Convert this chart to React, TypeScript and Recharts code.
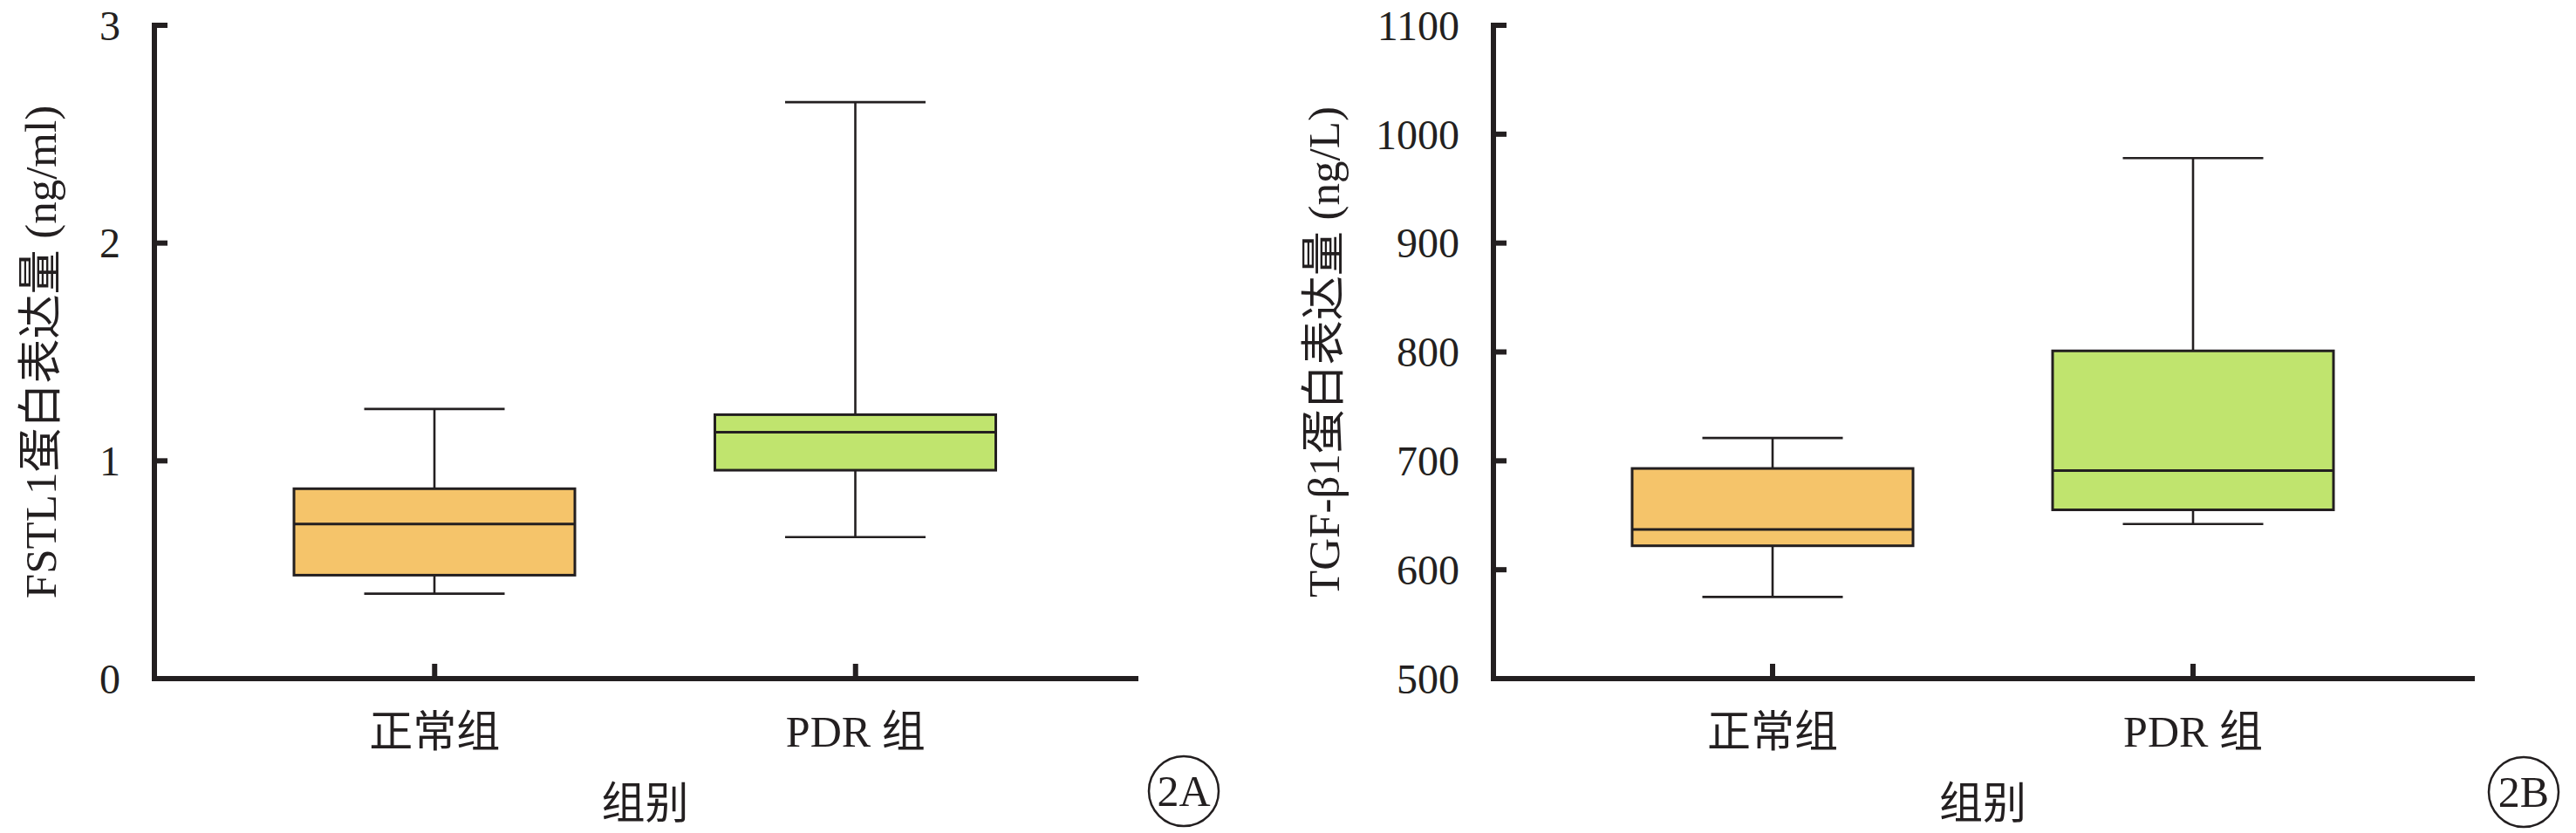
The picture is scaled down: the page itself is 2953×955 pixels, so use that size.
import React from 'react';
import { ComposedChart, Bar, XAxis, YAxis, Cell } from 'recharts';

// ---- data ----
const groups = ['正常组', 'PDR 组'];

const fstl1Min = [0.39, 0.65];
const fstl1Q1 = [0.475, 0.957];
const fstl1Median = [0.71, 1.132];
const fstl1Q3 = [0.872, 1.212];
const fstl1Max = [1.238, 2.647];
const fstl1Ticks = [0, 1, 2, 3];

const tgfMin = [575, 642];
const tgfQ1 = [622, 655];
const tgfMedian = [637, 691];
const tgfQ3 = [693, 801];
const tgfMax = [721, 978];
const tgfTicks = [500, 600, 700, 800, 900, 1000, 1100];

const boxColors = ['#F5C46A', '#C0E46E'];

const ink = '#231F20';
const serif = '"Liberation Serif", "Times New Roman", "Noto Sans CJK SC", serif';

const buildRows = (mn: number[], q1: number[], md: number[], q3: number[], mx: number[]) =>
  groups.map((name, i) => ({ name, box: [q1[i], q3[i]], min: mn[i], median: md[i], max: mx[i] }));

const fstl1Rows = buildRows(fstl1Min, fstl1Q1, fstl1Median, fstl1Q3, fstl1Max);
const tgfRows = buildRows(tgfMin, tgfQ1, tgfMedian, tgfQ3, tgfMax);

// ---- shapes ----
const BoxShape = (props: any) => {
  const { x, y, width, height, payload, fill } = props;
  const [q1, q3] = payload.box;
  const k = height / (q3 - q1);
  const py = (v: number) => y + (q3 - v) * k;
  const cx = x + width / 2;
  const capHalf = width / 4;
  const yMax = py(payload.max);
  const yMin = py(payload.min);
  const yMed = py(payload.median);
  return (
    <g>
      <line x1={cx} x2={cx} y1={yMax} y2={y} stroke={ink} strokeWidth={2.6} />
      <line x1={cx} x2={cx} y1={y + height} y2={yMin} stroke={ink} strokeWidth={2.6} />
      <line x1={cx - capHalf} x2={cx + capHalf} y1={yMax} y2={yMax} stroke={ink} strokeWidth={2.6} />
      <line x1={cx - capHalf} x2={cx + capHalf} y1={yMin} y2={yMin} stroke={ink} strokeWidth={2.6} />
      <rect x={x} y={y} width={width} height={height} fill={fill} stroke={ink} strokeWidth={3} />
      <line x1={x} x2={x + width} y1={yMed} y2={yMed} stroke={ink} strokeWidth={3} />
    </g>
  );
};

const YTick = (props: any) => {
  const { x, y, payload } = props;
  return (
    <g>
      <line x1={x} x2={x + 15} y1={y} y2={y} stroke={ink} strokeWidth={6} />
      <text x={x - 39} y={y} dy="0.35em" textAnchor="end" fontSize={48} fontFamily={serif} fill={ink}>
        {payload.value}
      </text>
    </g>
  );
};

const XTick = (props: any) => {
  const { x, y, payload } = props;
  return (
    <g>
      <line x1={x} x2={x} y1={y} y2={y - 17} stroke={ink} strokeWidth={6} />
      <text x={x} y={y + 78} textAnchor="middle" fontSize={50} fontFamily={serif} fill={ink}>
        {payload.value}
      </text>
    </g>
  );
};

const YTitle = (props: any) => {
  const { viewBox, value, dx } = props;
  const cx = viewBox.x + dx;
  const cy = viewBox.y + viewBox.height / 2;
  return (
    <text
      x={cx}
      y={cy}
      dy="0.36em"
      transform={`rotate(-90 ${cx} ${cy})`}
      textAnchor="middle"
      fontSize={51}
      fontFamily={serif}
      fill={ink}
    >
      {value}
    </text>
  );
};

const XTitle = (props: any) => {
  const { viewBox, value } = props;
  const cx = viewBox.x + viewBox.width / 2;
  return (
    <text x={cx} y={viewBox.y + 160} textAnchor="middle" fontSize={50} fontFamily={serif} fill={ink}>
      {value}
    </text>
  );
};

const axisLineStyle = { stroke: ink, strokeWidth: 6, strokeLinecap: 'square' as const };

type PanelProps = {
  rows: any[];
  width: number;
  yWidth: number;
  rightMargin: number;
  domain: [number, number];
  ticks: number[];
  yTitle: string;
  yTitleDx: number;
  pad: number;
};

const Panel = ({ rows, width, yWidth, rightMargin, domain, ticks, yTitle, yTitleDx, pad }: PanelProps) => (
  <ComposedChart width={width} height={955} data={rows} margin={{ top: 29, right: rightMargin, bottom: 0, left: 0 }}>
    <XAxis
      dataKey="name"
      height={177}
      padding={{ left: pad, right: pad }}
      axisLine={axisLineStyle}
      tickLine={false}
      tickSize={0}
      tickMargin={0}
      tick={<XTick />}
      interval={0}
      label={<XTitle value="组别" />}
    />
    <YAxis
      width={yWidth}
      domain={domain}
      ticks={ticks}
      type="number"
      axisLine={axisLineStyle}
      tickLine={false}
      tickSize={0}
      tickMargin={0}
      tick={<YTick />}
      interval={0}
      allowDataOverflow
      label={<YTitle value={yTitle} dx={yTitleDx} />}
    />
    <Bar dataKey="box" barSize={322} isAnimationActive={false} shape={<BoxShape />}>
      {rows.map((r, i) => (
        <Cell key={r.name} fill={boxColors[i]} />
      ))}
    </Bar>
  </ComposedChart>
);

const Badge = ({ cx, cy, text }: { cx: number; cy: number; text: string }) => (
  <g>
    <circle cx={cx} cy={cy} r={40} fill="none" stroke={ink} strokeWidth={2.5} />
    <text x={cx} y={cy + 17} textAnchor="middle" fontSize={50} fontFamily={serif} fill={ink}>
      {text}
    </text>
  </g>
);

export default function App() {
  return (
    <div style={{ position: 'absolute', left: 0, top: 0, width: 2953, height: 955, background: '#fff' }}>
      <div style={{ position: 'absolute', left: 0, top: 0 }}>
        <Panel
          rows={fstl1Rows}
          width={1480}
          yWidth={177}
          rightMargin={178}
          domain={[0, 3]}
          ticks={fstl1Ticks}
          yTitle="FSTL1蛋白表达量 (ng/ml)"
          yTitleDx={46}
          pad={80}
        />
      </div>
      <div style={{ position: 'absolute', left: 1480, top: 0 }}>
        <Panel
          rows={tgfRows}
          width={1473}
          yWidth={232}
          rightMargin={119}
          domain={[500, 1100]}
          ticks={tgfTicks}
          yTitle="TGF-β1蛋白表达量 (ng/L)"
          yTitleDx={37}
          pad={79}
        />
      </div>
      <svg width={2953} height={955} style={{ position: 'absolute', left: 0, top: 0, pointerEvents: 'none' }}>
        <Badge cx={1357} cy={907} text="2A" />
        <Badge cx={2893} cy={908} text="2B" />
      </svg>
    </div>
  );
}
